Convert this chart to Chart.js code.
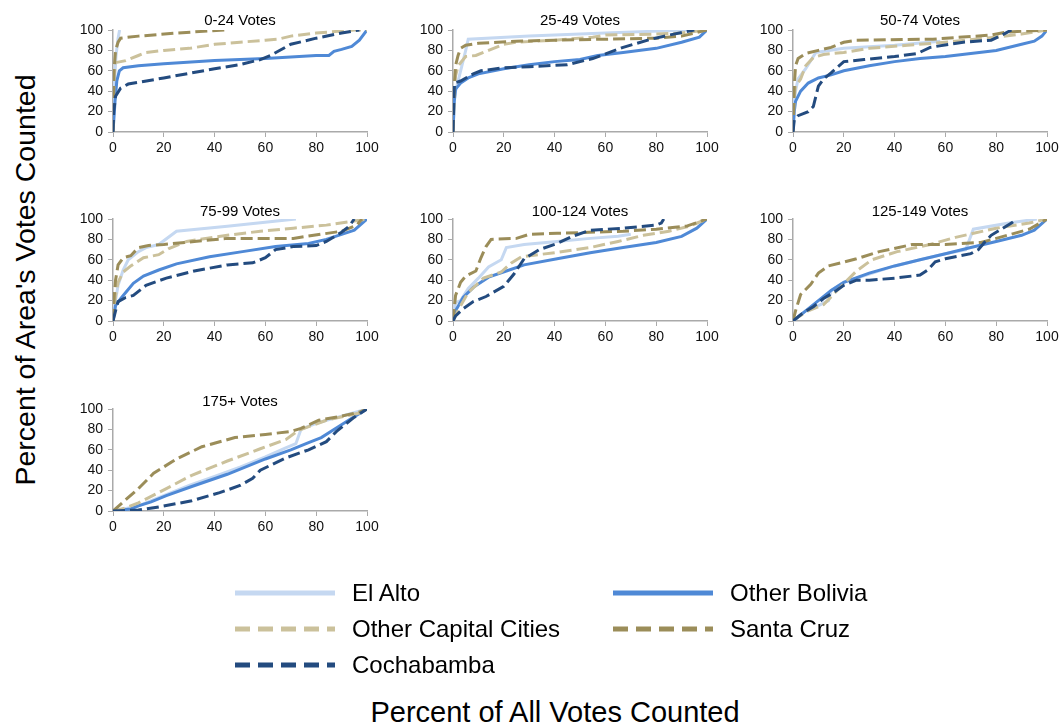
<!DOCTYPE html>
<html><head><meta charset="utf-8">
<script src="https://cdn.jsdelivr.net/npm/chart.js@4.4.1/dist/chart.umd.min.js"></script>
<style>
body{margin:0;background:#fff;width:1062px;height:728px;position:relative;overflow:hidden;font-family:"Liberation Sans",Arial,Helvetica,sans-serif;color:#000}
.panel{position:absolute}
.ptitle{position:absolute;font-size:15px;transform:translate(-50%,-50%);white-space:nowrap}
.axt{position:absolute;font-size:29px;white-space:nowrap;transform:translate(-50%,-50%)}
.lgt{position:absolute;font-size:24px;white-space:nowrap;transform:translateY(-50%)}
svg{position:absolute;left:0;top:0}
</style></head><body>
<div id="root"></div>
<script>
// ---- data ----
const SERIES = ["El Alto", "Other Bolivia", "Other Capital Cities", "Santa Cruz", "Cochabamba"];
const PANEL_TITLES = ["0-24 Votes", "25-49 Votes", "50-74 Votes", "75-99 Votes", "100-124 Votes", "125-149 Votes", "175+ Votes"];
const TICKS = [0, 20, 40, 60, 80, 100];

// Panel 0: 0-24 Votes
const p0_elAlto = [[0,0],[0.5,45],[1.2,75],[2,92],[2.6,100]];
const p0_otherBolivia = [[0,0],[0.8,30],[1.5,50],[2.5,60],[4,63],[10,65],[20,67],[40,70],[60,72],[80,75],[85,75],[87,79],[90,81],[94,84],[97,90],[100,100]];
const p0_otherCapital = [[0,0],[0.4,55],[1,68],[5,70],[10,75],[13,78],[20,80],[30,82],[40,86],[50,88],[60,90],[65,91],[70,94],[80,97],[90,99],[95,100],[100,100]];
const p0_santaCruz = [[0,0],[0.4,60],[1,80],[2,88],[3,92],[10,94],[25,97],[44,100]];
const p0_cochabamba = [[0,0],[0.3,20],[1,35],[3,43],[6,47],[20,53],[40,62],[50,66],[58,71],[62,75],[70,86],[80,92],[90,97],[97,100]];

// Panel 1: 25-49 Votes
const p1_elAlto = [[0,0],[0.5,30],[1,40],[3,60],[5,80],[6,91],[30,94],[60,97],[92,100]];
const p1_otherBolivia = [[0,0],[0.5,30],[1,42],[3,48],[6,53],[10,57],[20,62],[30,66],[40,69],[50,71],[57,75],[67,78],[80,82],[90,88],[97,93],[100,100]];
const p1_otherCapital = [[0,0],[0.5,40],[1,55],[2,65],[5,74],[9,75],[14,80],[20,86],[25,88],[40,90],[55,93],[60,95],[80,96],[90,97],[100,100]];
const p1_santaCruz = [[0,0],[0.5,45],[1,65],[2,75],[3,82],[5,85],[10,87],[25,89],[40,90],[60,91],[80,92],[90,94],[95,97],[100,100]];
const p1_cochabamba = [[0,0],[0.3,30],[0.6,48],[3,50],[8,57],[11,60],[20,63],[30,64],[45,66],[55,72],[67,83],[78,91],[85,95],[95,100]];

// Panel 2: 50-74 Votes
const p2_elAlto = [[0,0],[0.5,30],[1,40],[2,52],[5,62],[9,78],[20,82],[40,85],[58,89]];
const p2_otherBolivia = [[0,0],[0.5,20],[1,30],[3,40],[6,48],[10,53],[15,56],[20,60],[30,65],[40,69],[50,72],[60,74],[70,77],[80,80],[90,86],[95,89],[98,94],[100,100]];
const p2_otherCapital = [[0,0],[0.5,35],[1,45],[3,52],[5,65],[8,73],[12,76],[20,78],[30,82],[45,85],[60,88],[80,93],[90,96],[100,100]];
const p2_santaCruz = [[0,0],[0.5,45],[1,65],[2,72],[5,77],[10,80],[15,83],[20,88],[25,90],[55,91],[78,95],[84,98],[100,100]];
const p2_cochabamba = [[0,0],[0.5,12],[2,16],[6,20],[8,25],[9,35],[10,45],[12,52],[15,58],[20,69],[28,71],[40,74],[49,77],[54,83],[67,88],[78,90],[83,96],[86,100]];

// Panel 3: 75-99 Votes
const p3_elAlto = [[0,0],[1,20],[2,35],[4,50],[6,60],[10,68],[13,72],[18,75],[25,88],[45,93],[72,100]];
const p3_otherBolivia = [[0,0],[1,15],[3,22],[5,28],[8,37],[12,44],[18,50],[25,56],[38,63],[51,68],[64,73],[77,76],[84,80],[90,85],[95,89],[100,100]];
const p3_otherCapital = [[0,0],[1,25],[2,38],[4,48],[7,54],[12,62],[18,65],[22,71],[29,78],[45,84],[58,88],[71,91],[84,94],[95,98],[100,100]];
const p3_santaCruz = [[0,0],[0.5,25],[1,40],[2,55],[4,62],[7,64],[10,72],[14,74],[20,75],[32,78],[45,81],[71,81],[79,84],[90,88],[96,94],[98,100]];
const p3_cochabamba = [[0,0],[1,10],[2,19],[5,23],[8,25],[13,35],[21,42],[32,49],[45,55],[55,57],[60,62],[64,70],[71,73],[80,74],[84,78],[90,87],[93,93],[95,100]];

// Panel 4: 100-124 Votes
const p4_elAlto = [[0,0],[1,18],[3,20],[6,32],[10,42],[14,53],[19,60],[21,72],[28,75],[41,78],[54,81],[65,83],[70,85]];
const p4_otherBolivia = [[0,0],[1,10],[4,23],[8,33],[14,43],[21,49],[28,55],[41,61],[54,67],[67,72],[80,77],[90,83],[96,91],[100,100]];
const p4_otherCapital = [[0,0],[1,5],[3,15],[6,28],[9,35],[12,42],[19,48],[23,57],[27,63],[40,67],[54,72],[65,78],[75,84],[85,88],[93,93],[100,100]];
const p4_santaCruz = [[0,0],[1,25],[3,38],[5,44],[9,49],[11,62],[13,73],[15,80],[25,81],[30,85],[41,86],[67,88],[80,90],[92,93],[100,100]];
const p4_cochabamba = [[0,0],[1,5],[4,12],[8,19],[13,24],[20,34],[24,46],[28,61],[34,70],[41,76],[47,83],[54,89],[67,91],[80,94],[82,96],[83,100]];

// Panel 5: 125-149 Votes
const p5_elAlto = [[0,0],[5,10],[10,15],[14,20],[15,30],[20,38],[30,46],[40,54],[50,60],[60,66],[68,70],[71,90],[85,96],[96,100]];
const p5_otherBolivia = [[0,0],[5,10],[10,20],[15,30],[20,38],[30,47],[40,54],[50,60],[60,66],[70,72],[80,78],[90,84],[95,89],[100,100]];
const p5_otherCapital = [[0,0],[2,4],[6,10],[12,16],[17,29],[25,49],[31,60],[41,68],[54,75],[64,82],[80,91],[93,96],[100,100]];
const p5_santaCruz = [[0,0],[1,10],[3,26],[7,36],[10,47],[14,54],[25,61],[34,68],[47,75],[60,75],[74,77],[80,81],[93,90],[100,100]];
const p5_cochabamba = [[0,0],[4,8],[8,14],[12,22],[16,28],[20,35],[25,40],[30,40],[40,42],[50,45],[53,50],[56,58],[60,61],[70,66],[73,70],[75,76],[78,84],[82,90],[86,96],[88,100]];

// Panel 6: 175+ Votes
const p6_elAlto = [[0,0],[10,5],[20,15],[30,25],[40,34],[50,43],[60,53],[68,62],[72,66],[74,80],[80,86],[90,93],[100,100]];
const p6_otherBolivia = [[0,0],[7,2],[10,5],[15,9],[21,15],[31,24],[45,36],[60,51],[70,60],[77,67],[82,72],[87,80],[94,91],[100,100]];
const p6_otherCapital = [[0,0],[5,3],[10,8],[21,22],[31,35],[45,49],[58,61],[68,70],[73,79],[84,89],[97,96],[100,100]];
const p6_santaCruz = [[0,0],[5,11],[10,22],[16,37],[25,51],[35,63],[48,72],[60,75],[70,78],[74,81],[81,89],[90,93],[97,97],[100,100]];
const p6_cochabamba = [[0,0],[10,1],[18,4],[31,10],[42,18],[50,25],[55,32],[58,40],[68,52],[77,60],[84,68],[88,78],[95,92],[100,100]];

const PANEL_DATA = [
  [p0_elAlto, p0_otherBolivia, p0_otherCapital, p0_santaCruz, p0_cochabamba],
  [p1_elAlto, p1_otherBolivia, p1_otherCapital, p1_santaCruz, p1_cochabamba],
  [p2_elAlto, p2_otherBolivia, p2_otherCapital, p2_santaCruz, p2_cochabamba],
  [p3_elAlto, p3_otherBolivia, p3_otherCapital, p3_santaCruz, p3_cochabamba],
  [p4_elAlto, p4_otherBolivia, p4_otherCapital, p4_santaCruz, p4_cochabamba],
  [p5_elAlto, p5_otherBolivia, p5_otherCapital, p5_santaCruz, p5_cochabamba],
  [p6_elAlto, p6_otherBolivia, p6_otherCapital, p6_santaCruz, p6_cochabamba]
];

// ---- styles / layout ----
const COLORS = ["#c5d8f1", "#4f89d6", "#cbc19b", "#9b8d59", "#234b7f"];
const DASHED = [false, false, true, true, true];
const ORDER = [4, 3, 2, 1, 0];
const COL_X = [113, 453, 793];
const ROW_Y = [30, 219, 409];
const TITLE_Y = [19, 210, 400];
const PW = 254, PH = 102;
const YW = 50, XH = 30, PAD_T = 10, PAD_R = 20;

const root = document.getElementById('root');
const FONT = '"Liberation Sans", Arial, Helvetica, sans-serif';

PANEL_DATA.forEach((series, i) => {
  const col = i % 3, row = Math.floor(i / 3);
  const px = COL_X[col], py = ROW_Y[row];
  const cv = document.createElement('canvas');
  const w = YW + PW + PAD_R, h = PAD_T + PH + XH;
  cv.style.width = w + 'px';
  cv.style.height = h + 'px';
  cv.width = w; cv.height = h;
  const wrap = document.createElement('div');
  wrap.style.cssText = `position:absolute;left:${px - YW}px;top:${py - PAD_T}px;width:${w}px;height:${h}px`;
  wrap.appendChild(cv);
  root.appendChild(wrap);

  const t = document.createElement('div');
  t.className = 'ptitle';
  t.textContent = PANEL_TITLES[i];
  t.style.left = (px + PW / 2) + 'px';
  t.style.top = TITLE_Y[row] + 'px';
  root.appendChild(t);

  const datasets = series.map((pts, k) => ({
    label: SERIES[k],
    data: pts.map(p => ({x: p[0], y: p[1]})),
    borderColor: COLORS[k],
    backgroundColor: COLORS[k],
    borderWidth: 3,
    borderDash: DASHED[k] ? [12, 5] : [],
    borderCapStyle: 'butt',
    pointRadius: 0,
    tension: 0,
    fill: false,
    order: ORDER[k]
  }));

  new Chart(cv, {
    type: 'line',
    data: {datasets},
    options: {
      responsive: false,
      animation: false,
      events: [],
      layout: {padding: {left: 0, top: PAD_T, right: PAD_R, bottom: 0}},
      plugins: {legend: {display: false}, tooltip: {enabled: false}, title: {display: false}},
      scales: {
        x: {
          type: 'linear', min: 0, max: 100,
          afterBuildTicks: s => { s.ticks = TICKS.map(v => ({value: v})); },
          afterFit: s => { s.height = XH; s.paddingLeft = 0; s.paddingRight = 0; },
          ticks: {color: '#111', font: {family: FONT, size: 14}, padding: 3, maxRotation: 0, autoSkip: false},
          grid: {drawOnChartArea: false, drawTicks: true, tickLength: 5, color: '#aaa'},
          border: {display: true, color: '#aaa', width: 1.5}
        },
        y: {
          type: 'linear', min: 0, max: 100,
          afterBuildTicks: s => { s.ticks = TICKS.map(v => ({value: v})); },
          afterFit: s => { s.width = YW; s.paddingTop = 0; s.paddingBottom = 0; },
          ticks: {color: '#111', font: {family: FONT, size: 14}, padding: 5, autoSkip: false},
          grid: {drawOnChartArea: false, drawTicks: true, tickLength: 5, color: '#aaa'},
          border: {display: true, color: '#aaa', width: 1.5}
        }
      }
    }
  });
});

// axis titles
const yt = document.createElement('div');
yt.className = 'axt';
yt.textContent = "Percent of Area's Votes Counted";
yt.style.fontSize = '28.5px';
yt.style.left = '25px'; yt.style.top = '280px';
yt.style.transform = 'translate(-50%,-50%) rotate(-90deg)';
root.appendChild(yt);
const xt = document.createElement('div');
xt.className = 'axt';
xt.textContent = 'Percent of All Votes Counted';
xt.style.left = '555px'; xt.style.top = '712px';
root.appendChild(xt);

// legend
const LEG_POS = [[235, 593], [613, 593], [235, 629], [613, 629], [235, 665]];
const LEG_ORDER = [0, 1, 2, 3, 4];
let svg = '<svg width="1062" height="728" xmlns="http://www.w3.org/2000/svg">';
LEG_ORDER.forEach((k, j) => {
  const [lx, ly] = LEG_POS[j];
  svg += `<line x1="${lx}" y1="${ly}" x2="${lx + 100}" y2="${ly}" stroke="${COLORS[k]}" stroke-width="5" ${DASHED[k] ? 'stroke-dasharray="15 8"' : ''}/>`;
});
svg += '</svg>';
const sv = document.createElement('div');
sv.innerHTML = svg;
root.appendChild(sv);
LEG_ORDER.forEach((k, j) => {
  const [lx, ly] = LEG_POS[j];
  const d = document.createElement('div');
  d.className = 'lgt';
  d.textContent = SERIES[k];
  d.style.left = (lx + 117) + 'px';
  d.style.top = ly + 'px';
  root.appendChild(d);
});
</script>
</body></html>
